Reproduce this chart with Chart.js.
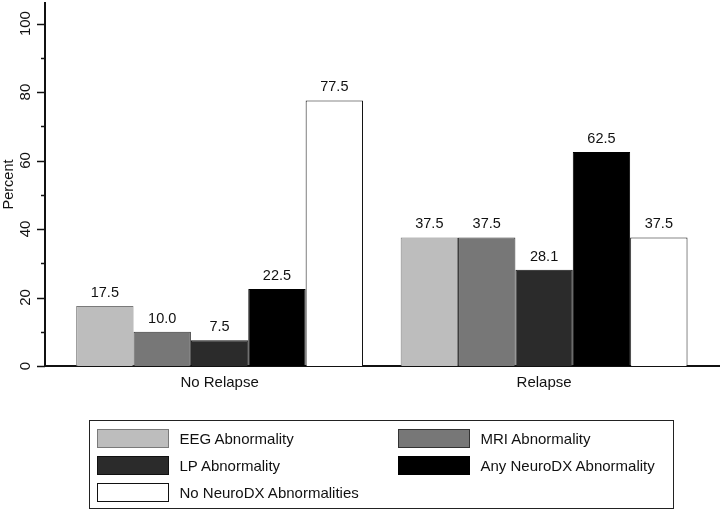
<!DOCTYPE html>
<html>
<head>
<meta charset="utf-8">
<script src="https://cdn.jsdelivr.net/npm/chart.js@4.4.1/dist/chart.umd.min.js"></script>
<style>
  html, body { margin: 0; padding: 0; background: #fff; }
  #wrap { position: relative; width: 720px; height: 512px; }
  #legend {
    position: absolute; left: 89px; top: 420px; width: 585px; height: 89px;
    box-sizing: border-box; border: 1.5px solid #222;
    font-family: "Liberation Sans", Arial, sans-serif; font-size: 15px; color: #111;
  }
  .item { position: absolute; height: 19px; }
  .sw { position: absolute; left: 0; top: 0; width: 72px; height: 19px; box-sizing: border-box; border: 1.5px solid #222; }
  .lb { position: absolute; left: 83px; top: 0; line-height: 19px; white-space: nowrap; }
</style>
</head>
<body>
<div id="wrap">
  <canvas id="chart" width="720" height="512"></canvas>
  <div id="legend"></div>
</div>
<script>
// data
const categories = ['No Relapse', 'Relapse'];
const seriesNames = ['EEG Abnormality', 'MRI Abnormality', 'LP Abnormality', 'Any NeuroDX Abnormality', 'No NeuroDX Abnormalities'];
const eegValues = [17.5, 37.5];
const mriValues = [10.0, 37.5];
const lpValues = [7.5, 28.1];
const anyDxValues = [22.5, 62.5];
const noDxValues = [77.5, 37.5];
const yTicks = [0, 20, 40, 60, 80, 100];
const yMinorTicks = [10, 30, 50, 70, 90];

const fills = ['#bdbdbd', '#777777', '#2b2b2b', '#000000', '#ffffff'];
const borders = ['#7a7a7a', '#333333', '#111111', '#000000', '#111111'];

Chart.defaults.font.family = '"Liberation Sans", Arial, sans-serif';
Chart.defaults.color = '#111';

const allValues = [eegValues, mriValues, lpValues, anyDxValues, noDxValues];
const datasets = allValues.map((vals, i) => ({
    label: seriesNames[i],
    data: categories.map((c, j) => ({ x: j, y: vals[j] })),
    backgroundColor: fills[i],
    borderColor: borders[i],
    borderWidth: 1,
    categoryPercentage: 0.884,
    barPercentage: 1
}));

// value above each bar
const valueLabels = {
    id: 'valueLabels',
    afterDatasetsDraw(chart) {
        const ctx = chart.ctx;
        ctx.save();
        ctx.font = '14.5px "Liberation Sans", Arial, sans-serif';
        ctx.fillStyle = '#111';
        ctx.textAlign = 'center';
        ctx.textBaseline = 'bottom';
        chart.data.datasets.forEach((ds, i) => {
            chart.getDatasetMeta(i).data.forEach((bar, j) => {
                ctx.fillText(ds.data[j].y.toFixed(1), bar.x, bar.y - 6);
            });
        });
        ctx.restore();
    }
};

// major and minor tick marks on the y axis
const yTickMarks = {
    id: 'yTickMarks',
    afterDraw(chart) {
        const ctx = chart.ctx;
        const y = chart.scales.y;
        const x0 = chart.chartArea.left;
        ctx.save();
        ctx.strokeStyle = '#111';
        ctx.lineWidth = 1.5;
        const mark = (v, len) => {
            const py = Math.round(y.getPixelForValue(v)) + 0.5;
            ctx.beginPath();
            ctx.moveTo(x0 - len, py);
            ctx.lineTo(x0, py);
            ctx.stroke();
        };
        yTicks.forEach(v => mark(v, 8));
        yMinorTicks.forEach(v => mark(v, 4));
        ctx.restore();
    }
};

const chart = new Chart(document.getElementById('chart').getContext('2d'), {
    type: 'bar',
    data: { datasets: datasets },
    options: {
        responsive: false,
        animation: false,
        layout: { padding: { top: 3, right: 1, bottom: 112, left: 0 } },
        plugins: {
            legend: { display: false },
            tooltip: { enabled: false }
        },
        scales: {
            x: {
                type: 'linear',
                min: -0.538,
                max: 1.539,
                offset: false,
                grid: { display: false, drawTicks: false },
                border: { display: true, color: '#111', width: 2 },
                afterBuildTicks: s => { s.ticks = categories.map((c, i) => ({ value: i })); },
                ticks: {
                    padding: 8,
                    font: { size: 15 },
                    color: '#111',
                    callback: v => categories[v] ?? ''
                }
            },
            y: {
                min: 0,
                max: 106,
                grid: { display: false, drawTicks: false },
                border: { display: true, color: '#111', width: 2 },
                afterBuildTicks: s => { s.ticks = yTicks.map(v => ({ value: v })); },
                afterFit: s => { s.width = 45; s.paddingTop = 0; s.paddingBottom = 0; },
                ticks: {
                    minRotation: 90,
                    maxRotation: 90,
                    crossAlign: 'center',
                    padding: 6.5,
                    font: { size: 15 },
                    color: '#111'
                },
                title: {
                    display: true,
                    text: 'Percent',
                    font: { size: 14.5 },
                    color: '#111',
                    padding: 0
                }
            }
        }
    },
    plugins: [valueLabels, yTickMarks]
});

// html legend, two columns
const legend = document.getElementById('legend');
chart.data.datasets.forEach((ds, i) => {
    const col = i % 2, row = Math.floor(i / 2);
    const item = document.createElement('div');
    item.className = 'item';
    item.style.left = (col ? 307.5 : 6.5) + 'px';
    item.style.top = (7.5 + row * 27) + 'px';
    const sw = document.createElement('div');
    sw.className = 'sw';
    sw.style.background = ds.backgroundColor;
    sw.style.borderColor = ds.borderColor;
    const lb = document.createElement('span');
    lb.className = 'lb';
    lb.textContent = ds.label;
    item.appendChild(sw);
    item.appendChild(lb);
    legend.appendChild(item);
});
</script>
</body>
</html>
